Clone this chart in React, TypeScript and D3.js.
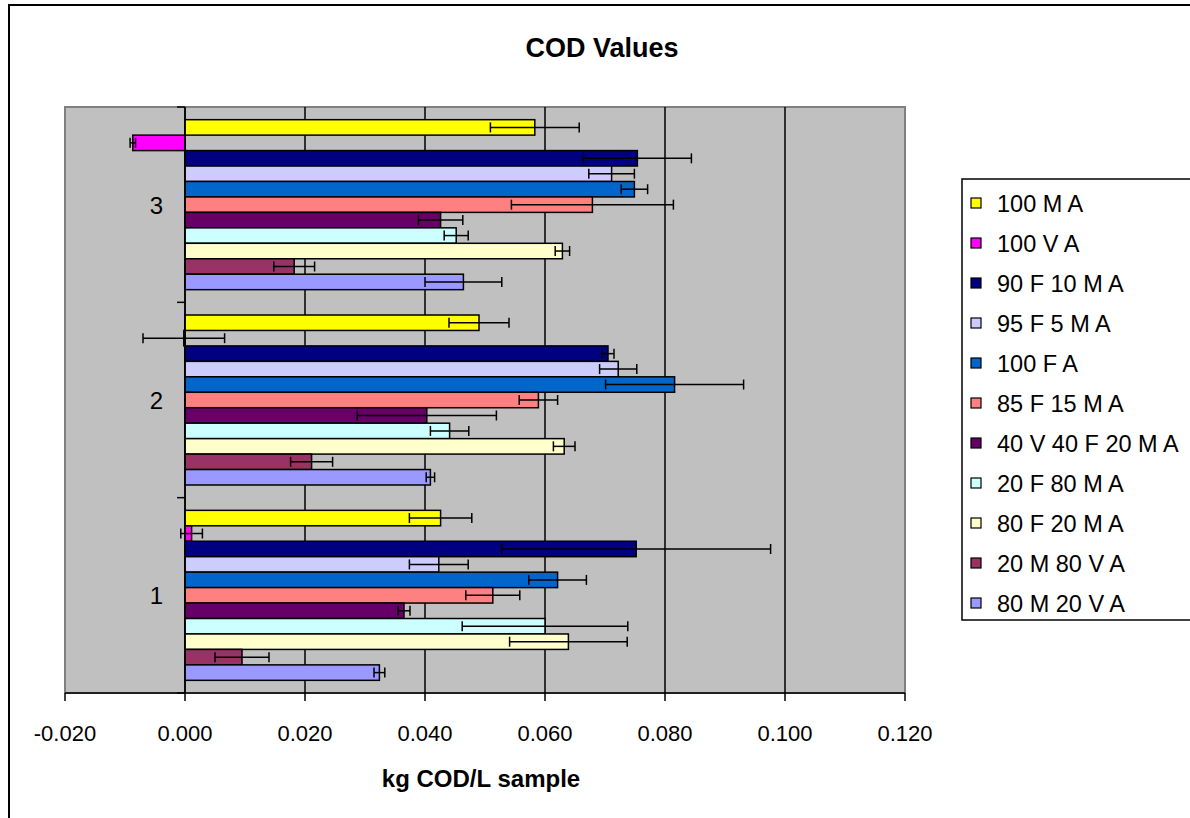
import React from "react";
import * as d3 from "d3";

const categories = ["1", "2", "3"];
const seriesNames = [
  "100 M A",
  "100 V A",
  "90 F 10 M A",
  "95 F 5 M A",
  "100 F A",
  "85 F 15 M A",
  "40 V 40 F 20 M A",
  "20 F 80 M A",
  "80 F 20 M A",
  "20 M 80 V A",
  "80 M 20 V A",
];
const seriesColors = [
  "#FFFF00",
  "#FF00FF",
  "#000080",
  "#CCCCFF",
  "#0066CC",
  "#FF8080",
  "#660066",
  "#CCFFFF",
  "#FFFFCC",
  "#993366",
  "#9999FF",
];
// values per series, for categories 1, 2, 3
const v100MA = [0.0426, 0.049, 0.0583];
const v100VA = [0.0011, -0.0002, -0.0087];
const v90F10MA = [0.0752, 0.0705, 0.0754];
const v95F5MA = [0.0423, 0.0722, 0.0711];
const v100FA = [0.0621, 0.0816, 0.0749];
const v85F15MA = [0.0513, 0.0589, 0.0679];
const v40V40F20MA = [0.0365, 0.0403, 0.0426];
const v20F80MA = [0.06, 0.0441, 0.0452];
const v80F20MA = [0.0639, 0.0632, 0.0629];
const v20M80VA = [0.0095, 0.0211, 0.0182];
const v80M20VA = [0.0324, 0.0409, 0.0464];
// error (+/-) per series
const e100MA = [0.0052, 0.005, 0.0074];
const e100VA = [0.0018, 0.0068, 0.00045];
const e90F10MA = [0.0224, 0.001, 0.009];
const e95F5MA = [0.0049, 0.0031, 0.0038];
const e100FA = [0.0048, 0.0115, 0.0022];
const e85F15MA = [0.0045, 0.0032, 0.0135];
const e40V40F20MA = [0.001, 0.0116, 0.0037];
const e20F80MA = [0.0138, 0.0032, 0.002];
const e80F20MA = [0.0098, 0.0018, 0.0012];
const e20M80VA = [0.0045, 0.0035, 0.0034];
const e80M20VA = [0.0009, 0.0007, 0.0064];

const seriesValues = [v100MA, v100VA, v90F10MA, v95F5MA, v100FA, v85F15MA, v40V40F20MA, v20F80MA, v80F20MA, v20M80VA, v80M20VA];
const seriesErrors = [e100MA, e100VA, e90F10MA, e95F5MA, e100FA, e85F15MA, e40V40F20MA, e20F80MA, e80F20MA, e20M80VA, e80M20VA];

const xTicks = [-0.02, 0, 0.02, 0.04, 0.06, 0.08, 0.1, 0.12];
const title = "COD Values";
const xTitle = "kg COD/L sample";

const FONT = "'Liberation Sans', Arial, sans-serif";

export default function App() {
  const plot = { left: 65, right: 905, top: 107, bottom: 693 };
  const x = d3.scaleLinear().domain([-0.02, 0.12]).range([plot.left, plot.right]);
  const y = d3
    .scaleBand<string>()
    .domain(["3", "2", "1"])
    .range([plot.top, plot.bottom])
    .paddingInner(0)
    .paddingOuter(0);
  const ys = d3
    .scaleBand<string>()
    .domain(seriesNames)
    .range([0, y.bandwidth()])
    .paddingInner(0)
    .paddingOuter(0.82);
  const fmt = (t: number) => d3.format(".3f")(t).replace("\u2212", "-");
  const capH = 10;

  return (
    <svg
      width={1190}
      height={818}
      style={{ position: "absolute", left: 0, top: 0, background: "#fff" }}
      fontFamily={FONT}
    >
      <rect x={0} y={0} width={1190} height={818} fill="#fff" />
      <rect x={9} y={5} width={1200} height={830} fill="#fff" stroke="#000" strokeWidth={2} />
      <text x={602} y={57} textAnchor="middle" fontSize={27} fontWeight="bold">
        {title}
      </text>
      {/* plot area */}
      <rect
        x={plot.left}
        y={plot.top}
        width={plot.right - plot.left}
        height={plot.bottom - plot.top}
        fill="#C0C0C0"
        stroke="#808080"
        strokeWidth={2}
      />
      {/* gridlines */}
      {xTicks
        .filter((t) => t > -0.02 && t < 0.12)
        .map((t) => (
          <line key={"g" + t} x1={x(t)} x2={x(t)} y1={plot.top} y2={plot.bottom} stroke="#000" strokeWidth={1.5} />
        ))}
      {/* bars */}
      {seriesNames.map((s, si) =>
        categories.map((c, ci) => {
          const v = seriesValues[si][ci];
          const y0 = (y(c) as number) + (ys(s) as number);
          const x0 = x(Math.min(0, v));
          const w = Math.abs(x(v) - x(0));
          return (
            <rect
              key={s + c}
              x={x0}
              y={y0}
              width={w}
              height={ys.bandwidth()}
              fill={seriesColors[si]}
              stroke="#000"
              strokeWidth={1.5}
            />
          );
        })
      )}
      {/* error bars */}
      {seriesNames.map((s, si) =>
        categories.map((c, ci) => {
          const v = seriesValues[si][ci];
          const e = seriesErrors[si][ci];
          const cy = (y(c) as number) + (ys(s) as number) + ys.bandwidth() / 2;
          const xl = x(v - e);
          const xr = x(v + e);
          return (
            <g key={"e" + s + c} stroke="#000" strokeWidth={1.5}>
              <line x1={xl} x2={xr} y1={cy} y2={cy} />
              <line x1={xl} x2={xl} y1={cy - capH / 2} y2={cy + capH / 2} />
              <line x1={xr} x2={xr} y1={cy - capH / 2} y2={cy + capH / 2} />
            </g>
          );
        })
      )}
      {/* category axis at x=0 */}
      <line x1={x(0)} x2={x(0)} y1={plot.top} y2={plot.bottom} stroke="#000" strokeWidth={1.5} />
      {[0, 1, 2, 3].map((i) => {
        const yy = plot.top + i * y.step();
        return <line key={"ct" + i} x1={x(0) - 8} x2={x(0)} y1={yy} y2={yy} stroke="#000" strokeWidth={1.5} />;
      })}
      {categories.map((c) => (
        <text
          key={"cl" + c}
          x={x(0) - 22}
          y={(y(c) as number) + y.bandwidth() / 2 + 9}
          textAnchor="end"
          fontSize={24}
        >
          {c}
        </text>
      ))}
      {/* value axis */}
      <line x1={plot.left} x2={plot.right} y1={plot.bottom} y2={plot.bottom} stroke="#000" strokeWidth={1.5} />
      {xTicks.map((t) => (
        <g key={"xt" + t}>
          <line x1={x(t)} x2={x(t)} y1={plot.bottom} y2={plot.bottom + 8} stroke="#000" strokeWidth={1.5} />
          <text x={x(t)} y={741} textAnchor="middle" fontSize={22}>
            {fmt(t)}
          </text>
        </g>
      ))}
      <text x={481} y={787} textAnchor="middle" fontSize={24} fontWeight="bold">
        {xTitle}
      </text>
      {/* legend */}
      <rect x={962} y={179} width={240} height={441} fill="#fff" stroke="#000" strokeWidth={1.5} />
      {seriesNames.map((s, i) => (
        <g key={"l" + s}>
          <rect x={971} y={198 + i * 40} width={10} height={10} fill={seriesColors[i]} stroke="#000" strokeWidth={1.2} />
          <text x={997} y={212 + i * 40} fontSize={23.5}>
            {s}
          </text>
        </g>
      ))}
    </svg>
  );
}
